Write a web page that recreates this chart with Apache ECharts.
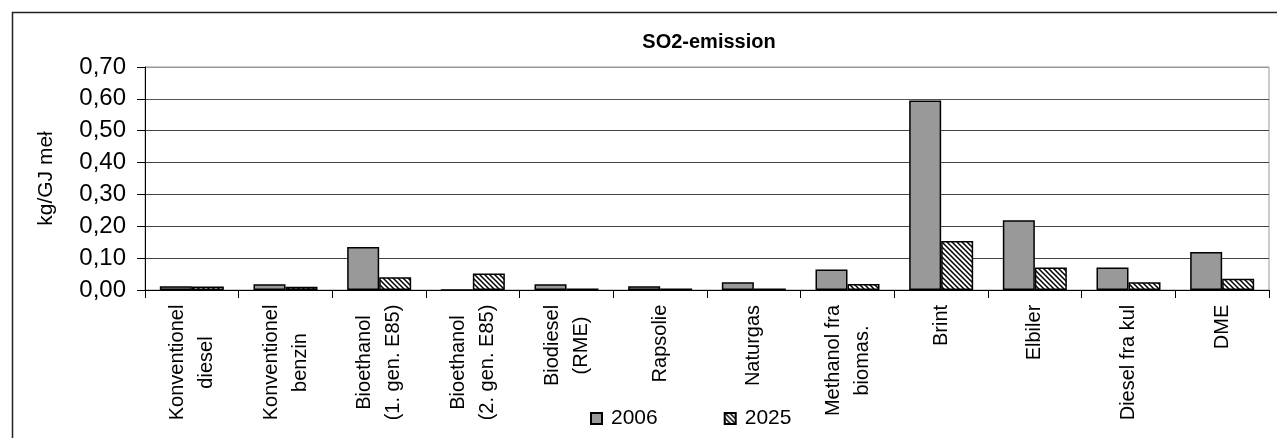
<!DOCTYPE html>
<html>
<head>
<meta charset="utf-8">
<script src="https://cdn.jsdelivr.net/npm/echarts@6/dist/echarts.min.js"></script>
<style>html,body{margin:0;padding:0;background:#fff}#c{width:1277px;height:438px}</style>
</head>
<body>
<div id="c"></div>
<script>
const categories = ['Konventionel\ndiesel','Konventionel\nbenzin','Bioethanol\n(1. gen. E85)','Bioethanol\n(2. gen. E85)','Biodiesel\n(RME)','Rapsolie','Naturgas','Methanol fra\nbiomas.','Brint','Elbiler','Diesel fra kul','DME'];
const values2006 = [0.012,0.018,0.135,0,0.018,0.012,0.024,0.064,0.595,0.219,0.071,0.119];
const values2025 = [0.011,0.010,0.040,0.052,0.005,0.005,0.005,0.019,0.154,0.071,0.024,0.035];
const yTickLabels = ['0,00','0,10','0,20','0,30','0,40','0,50','0,60','0,70'];
const seriesNames = ['2006','2025'];
const titleText = 'SO2-emission';
const yName = 'kg/GJ meł';

const FONT = '"Liberation Sans", Arial, sans-serif';

function hatch(){
  const c=document.createElement('canvas'); c.width=5; c.height=5;
  const g=c.getContext('2d');
  g.fillStyle='#fff'; g.fillRect(0,0,5,5);
  g.strokeStyle='#000'; g.lineWidth=1.5;
  g.beginPath();
  g.moveTo(-1,-1); g.lineTo(6,6);
  g.moveTo(-1,4); g.lineTo(1,6);
  g.moveTo(4,-1); g.lineTo(6,1);
  g.stroke();
  return c;
}

// measure label lines to center them within each block
const mc=document.createElement('canvas').getContext('2d');
mc.font='20px "Liberation Sans", Arial, sans-serif';
const rich={};
categories.forEach((cat,i)=>{
  const w=Math.max(...cat.split('\n').map(l=>mc.measureText(l).width));
  rich['c'+i]={width:Math.ceil(w)+1,align:'center',fontSize:20,lineHeight:29,fontFamily:FONT,color:'#000'};
});

const chart=echarts.init(document.getElementById('c'),null,{renderer:'canvas'});
chart.setOption({
  animation:false,
  backgroundColor:'#fff',
  title:{text:titleText,left:704,textAlign:'center',top:27,textStyle:{fontFamily:FONT,fontSize:20,fontWeight:'bold',color:'#000'}},
  legend:{
    left:585,top:403,itemWidth:11,itemHeight:11,itemGap:66,
    textStyle:{fontFamily:FONT,fontSize:21,color:'#000',padding:[0,0,0,4]},
    data:seriesNames.map(n=>({name:n,icon:'rect'}))
  },
  grid:{left:145,right:8,top:67,bottom:148,show:true,borderColor:'#999',borderWidth:1},
  graphic:[{type:'rect',shape:{x:12.5,y:12.5,width:1290,height:460},style:{fill:'none',stroke:'#222',lineWidth:1.5},silent:true,z:-1}],
  xAxis:{
    type:'category',data:categories,
    axisLine:{lineStyle:{color:'#000',width:1}},
    axisTick:{show:true,length:8,lineStyle:{color:'#000'},alignWithLabel:false},
    axisLabel:{
      rotate:90,margin:14,interval:0,
      formatter:(v,i)=>v.split('\n').map(l=>'{c'+i+'|'+l+'}').join('\n'),
      rich:rich
    }
  },
  yAxis:{
    type:'value',min:0,max:0.7,interval:0.1,
    name:yName,nameLocation:'middle',nameRotate:90,nameGap:88,
    nameTextStyle:{fontFamily:FONT,fontSize:21,color:'#000'},
    axisLine:{show:true,lineStyle:{color:'#000',width:1}},
    axisTick:{show:true,length:8,lineStyle:{color:'#000'}},
    axisLabel:{margin:19,fontFamily:FONT,fontSize:24,color:'#000',
      formatter:(v)=>yTickLabels[Math.round(v*10)]},
    splitLine:{show:true,lineStyle:{color:['#444','#444','#444','#444','#444','#444','#555','#999'],width:1}}
  },
  series:[
    {name:seriesNames[0],type:'bar',data:values2006,barWidth:32,barGap:'0%',
      itemStyle:{color:'#999999',borderColor:'#000',borderWidth:1.5}},
    {name:seriesNames[1],type:'bar',data:values2025,barWidth:32,barGap:'0%',
      itemStyle:{color:{image:hatch(),repeat:'repeat'},borderColor:'#000',borderWidth:1.5}}
  ]
});
</script>
</body>
</html>
